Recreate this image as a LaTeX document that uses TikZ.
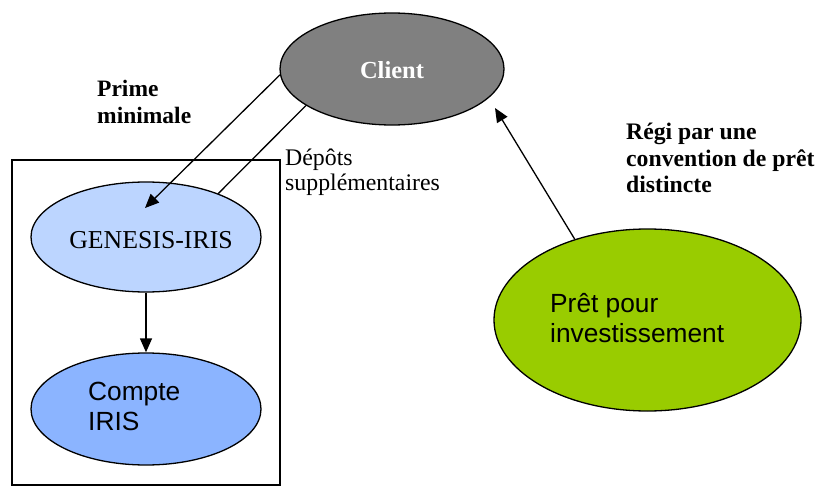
\documentclass[tikz,border=0pt]{standalone}
\usepackage{fontspec}
\setmainfont{Liberation Serif}
\newfontfamily\arialf{Liberation Sans}
\usetikzlibrary{shapes.geometric,arrows.meta}
\definecolor{clientgray}{HTML}{808080}
\definecolor{genblue}{HTML}{BCD5FF}
\definecolor{compteblue}{HTML}{8BB4FF}
\definecolor{pretgreen}{HTML}{99CC00}
\tikzset{
  oval/.style={ellipse, draw=black, line width=1.3pt, inner sep=0pt},
  lbl/.style={inner sep=0pt, align=left, anchor=north west},
  conn/.style={line width=1.3pt, -{Triangle[length=14pt,width=12pt]}},
  plainconn/.style={line width=1.3pt},
}
\begin{document}
\begin{tikzpicture}[x=1pt,y=-1pt]
\useasboundingbox (0,0) rectangle (820,487);
% frame around the IRIS part
\node[draw=black, line width=1.3pt, minimum width=268pt, minimum height=325pt, inner sep=0pt] (frame) at (146,322.5) {};
% ellipses
\node[oval, fill=clientgray, minimum width=224pt, minimum height=112pt] (client) at (392,69) {};
\node[oval, fill=genblue, minimum width=230pt, minimum height=110pt] (gen) at (146,237) {};
\node[oval, fill=compteblue, minimum width=230pt, minimum height=112pt] (compte) at (146,409) {};
\node[oval, fill=pretgreen, minimum width=307pt, minimum height=182pt] (pret) at (647.5,320) {};
% texts inside ellipses
\node[inner sep=0pt, text=white, font=\fontsize{24.5}{28}\selectfont\bfseries] (clienttxt) at (392,70) {Client};
\node[inner sep=0pt, font=\fontsize{25.8}{29}\selectfont] (gentxt) at (151,240) {GENESIS-IRIS};
\node[lbl, font=\arialf\fontsize{26.3}{30}\selectfont] (comptetxt) at (88,382) {Compte\\IRIS};
\node[lbl, font=\arialf\fontsize{26.3}{30}\selectfont] (prettxt) at (550,293) {Prêt pour\\investissement};
% free labels
\node[lbl, font=\fontsize{23.5}{27}\selectfont\bfseries] (prime) at (97,80) {Prime\\minimale};
\node[lbl, font=\fontsize{23.8}{25}\selectfont] (depots) at (285,149) {Dépôts\\supplémentaires};
\node[lbl, font=\fontsize{23.7}{26.5}\selectfont\bfseries] (regi) at (626,123) {Régi par une\\convention de prêt\\distincte};
% connectors
\coordinate (primeend) at (145,208);
\coordinate (pretend) at (495,108);
\draw[conn] (client.183) -- (primeend);
\draw[plainconn] (client.203.5) -- (gen.31);
\draw[conn] (gen.south) -- (compte.north);
\draw[conn] (pret.132.6) -- (pretend);
\end{tikzpicture}
\end{document}
